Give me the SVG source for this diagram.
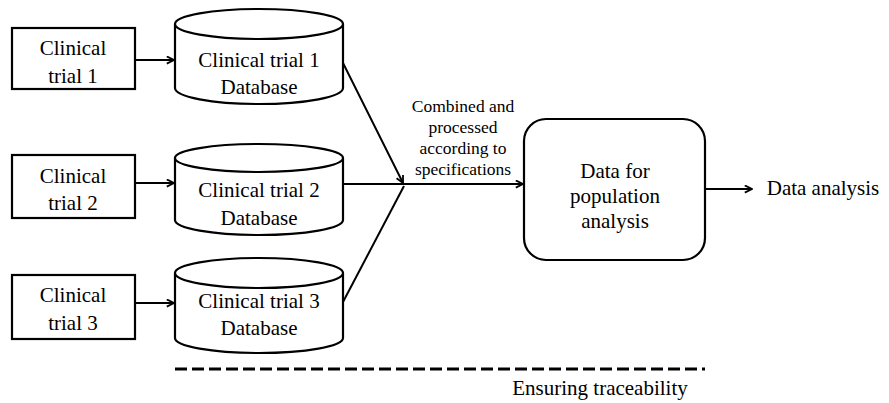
<svg xmlns="http://www.w3.org/2000/svg" width="889" height="403" viewBox="0 0 889 403">
<style>
.shape{fill:#fff;stroke:#000;stroke-width:2.2}
.t{font-family:"Liberation Serif","Times New Roman",serif;font-size:21px;fill:#000;text-anchor:middle}
.lbl{font-family:"Liberation Serif","Times New Roman",serif;font-size:17.5px;fill:#000;text-anchor:middle}
.c{fill:none;stroke:#000;stroke-width:2}
</style>
<defs>
<marker id="ah" viewBox="0 0 10 10" refX="9" refY="5" markerWidth="9" markerHeight="9" markerUnits="userSpaceOnUse" orient="auto">
<path d="M1,1 L9,5 L1,9" fill="none" stroke="#000" stroke-width="2"/>
</marker>
</defs>
<rect width="889" height="403" fill="#fff"/>
<g id="trial1"><rect class="shape" x="12" y="28" width="123" height="61"/><text class="t" x="73" y="55">Clinical</text><text class="t" x="73" y="83">trial 1</text></g>
<g id="trial2"><rect class="shape" x="12" y="155" width="123" height="63"/><text class="t" x="73" y="183">Clinical</text><text class="t" x="73" y="210">trial 2</text></g>
<g id="trial3"><rect class="shape" x="12" y="275" width="123" height="64"/><text class="t" x="73" y="302">Clinical</text><text class="t" x="73" y="330">trial 3</text></g>
<g id="db1"><path class="shape" d="M175,24 L175,88 A84,16 0 0 0 343,88 L343,24"/><ellipse class="shape" cx="259" cy="24" rx="84" ry="15"/><text class="t" x="259" y="67">Clinical trial 1</text><text class="t" x="259" y="94">Database</text></g>
<g id="db2"><path class="shape" d="M175,158 L175,220 A84,15 0 0 0 343,220 L343,158"/><ellipse class="shape" cx="259" cy="158" rx="84" ry="14"/><text class="t" x="259" y="197">Clinical trial 2</text><text class="t" x="259" y="225">Database</text></g>
<g id="db3"><path class="shape" d="M175,273 L175,338 A84,15 0 0 0 343,338 L343,273"/><ellipse class="shape" cx="259" cy="273" rx="84" ry="15"/><text class="t" x="259" y="308">Clinical trial 3</text><text class="t" x="259" y="335">Database</text></g>
<g id="popdata"><rect class="shape" x="524" y="119" width="181" height="141" rx="22"/><text class="t" x="615" y="178">Data for</text><text class="t" x="615" y="203">population</text><text class="t" x="615" y="228">analysis</text></g>
<g id="analysis"><text class="t" x="823" y="195">Data analysis</text></g>
<g id="connectors">
<line class="c" x1="135" y1="60" x2="174" y2="60" marker-end="url(#ah)"/>
<line class="c" x1="135" y1="183" x2="174" y2="183" marker-end="url(#ah)"/>
<line class="c" x1="135" y1="303" x2="174" y2="303" marker-end="url(#ah)"/>
<line class="c" x1="343" y1="63" x2="403" y2="183" marker-end="url(#ah)"/>
<line class="c" x1="343" y1="184" x2="523" y2="184" marker-end="url(#ah)"/>
<line class="c" x1="343" y1="302" x2="404" y2="186"/>
<line class="c" x1="705" y1="189" x2="752" y2="189" marker-end="url(#ah)"/>
<line x1="175" y1="369" x2="705" y2="369" stroke="#000" stroke-width="3" stroke-dasharray="12,5"/>
</g>
<g id="combined-label"><text class="lbl" x="463" y="112">Combined and</text><text class="lbl" x="463" y="133">processed</text><text class="lbl" x="463" y="154">according to</text><text class="lbl" x="463" y="175">specifications</text></g>
<g id="traceability-label"><text class="t" x="600" y="395">Ensuring traceability</text></g>
</svg>
